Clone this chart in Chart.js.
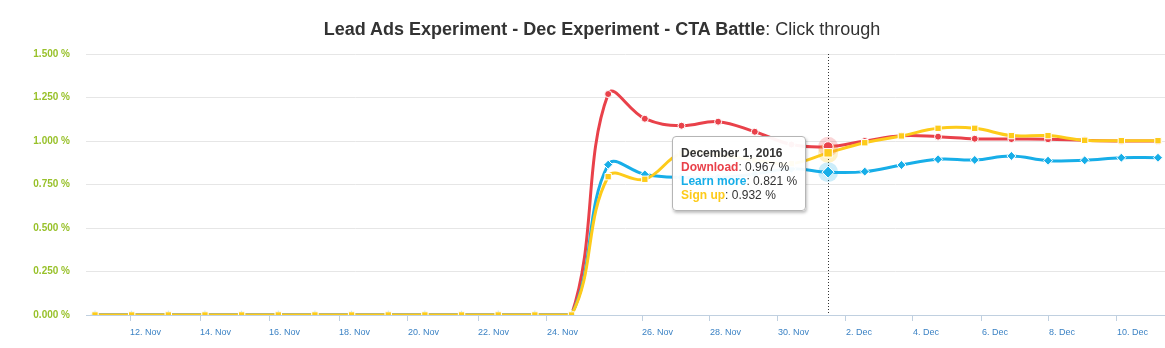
<!DOCTYPE html>
<html>
<head>
<meta charset="utf-8">
<script src="https://cdn.jsdelivr.net/npm/chart.js@4"></script>
<style>
  body { margin: 0; background: #fff; font-family: "Liberation Sans", Arial, Helvetica, sans-serif; }
  #wrap { position: relative; width: 1165px; height: 348px; }
  #title { position: absolute; top: 19px; left: 602px; transform: translateX(-50%);
    white-space: nowrap; font-size: 18px; line-height: 21px; color: #333; }
  #title b { font-weight: bold; }
  #tip { position: absolute; display: none; background: rgba(255,255,255,0.95);
    border: 1px solid #b5b5b5; border-radius: 4px; padding: 9px 8px 8px 8px;
    box-shadow: 1px 2px 3px rgba(0,0,0,0.25); font-size: 12px; line-height: 14px;
    color: #333; white-space: nowrap; pointer-events: none; }
  #tip .t { font-weight: bold; }
  #tip .n { font-weight: bold; }
</style>
</head>
<body>
<div id="wrap">
  <canvas id="chart" width="1165" height="348"></canvas>
  <div id="title"><b>Lead Ads Experiment - Dec Experiment - CTA Battle</b>: Click through</div>
  <div id="tip"></div>
</div>
<script>
// one entry per day, 11 Nov 2016 .. 10 Dec 2016
const days = [
  "2016-11-11", "2016-11-12", "2016-11-13", "2016-11-14", "2016-11-15",
  "2016-11-16", "2016-11-17", "2016-11-18", "2016-11-19", "2016-11-20",
  "2016-11-21", "2016-11-22", "2016-11-23", "2016-11-24", "2016-11-25",
  "2016-11-26", "2016-11-27", "2016-11-28", "2016-11-29", "2016-11-30",
  "2016-12-01", "2016-12-02", "2016-12-03", "2016-12-04", "2016-12-05",
  "2016-12-06", "2016-12-07", "2016-12-08", "2016-12-09", "2016-12-10"
];

// click through rate in %
const download = [
  0, 0, 0, 0, 0, 0, 0, 0, 0, 0, 0, 0, 0, 0,
  1.270, 1.128, 1.088, 1.111, 1.053, 0.980, 0.967, 1.000,
  1.030, 1.025, 1.013, 1.011, 1.010, 1.004, 1.000, 1.000
];
const learnMore = [
  0, 0, 0, 0, 0, 0, 0, 0, 0, 0, 0, 0, 0, 0,
  0.864, 0.808, 0.790, 0.790, 0.810, 0.840, 0.821, 0.824,
  0.862, 0.895, 0.891, 0.914, 0.887, 0.889, 0.904, 0.904
];
const signUp = [
  0, 0, 0, 0, 0, 0, 0, 0, 0, 0, 0, 0, 0, 0,
  0.795, 0.780, 0.930, 0.920, 0.890, 0.870, 0.932, 0.990,
  1.029, 1.073, 1.073, 1.031, 1.031, 1.004, 1.002, 1.002
];

// date labels on the x axis and where they fall along the day index
const tickLabels = [
  "12. Nov", "14. Nov", "16. Nov", "18. Nov", "20. Nov", "22. Nov", "24. Nov",
  "26. Nov", "28. Nov", "30. Nov", "2. Dec", "4. Dec", "6. Dec", "8. Dec", "10. Dec"
];
const tickDays = [
  0.955, 2.865, 4.747, 6.657, 8.539, 10.449, 12.331,
  14.923, 16.778, 18.633, 20.488, 22.316, 24.198, 26.026, 27.881
];

const hoverIndex = 20; // December 1

const RED = "#e9414a", BLUE = "#17aee8", YELLOW = "#fdcb1a";
const HALO = { [RED]: "rgba(233,65,74,0.22)", [BLUE]: "rgba(23,174,232,0.22)", [YELLOW]: "rgba(253,203,26,0.25)" };

function series(label, values, color, style, radius, order) {
  return {
    label: label,
    data: values.map((v, i) => ({ x: i, y: v })),
    borderColor: color,
    backgroundColor: color,
    borderWidth: 3,
    tension: 0.4,
    pointStyle: style,
    pointRadius: radius,
    pointBorderColor: "#ffffff",
    pointBorderWidth: 1,
    pointHoverRadius: radius + 1.5,
    pointHoverBorderWidth: 1,
    pointHoverBorderColor: "#ffffff",
    pointHoverBackgroundColor: color,
    order: order,
  };
}

function parseDay(s) {
  let p = s.split("-").map(Number);
  return new Date(p[0], p[1] - 1, p[2]);
}

// crosshair + halos on the hovered day
const hoverDeco = {
  id: "hoverDeco",
  beforeDatasetsDraw(chart) {
    let act = chart.getActiveElements();
    if (!act.length) return;
    let ctx = chart.ctx, a = chart.chartArea;
    let x = Math.round(act[0].element.x) + 0.5;
    ctx.save();
    ctx.strokeStyle = "#333";
    ctx.lineWidth = 1;
    ctx.setLineDash([1, 2]);
    ctx.beginPath();
    ctx.moveTo(x, a.top);
    ctx.lineTo(x, a.bottom);
    ctx.stroke();
    ctx.restore();
  },
  afterDatasetsDraw(chart) {
    let act = chart.getActiveElements();
    let ctx = chart.ctx;
    ctx.save();
    act.forEach((el) => {
      let color = chart.data.datasets[el.datasetIndex].borderColor;
      ctx.fillStyle = HALO[color];
      ctx.beginPath();
      ctx.arc(el.element.x, el.element.y, 10, 0, Math.PI * 2);
      ctx.fill();
    });
    act.forEach((el) => el.element.draw(ctx, chart.chartArea));
    ctx.restore();
  },
};

function externalTip(context) {
  let tip = document.getElementById("tip");
  let t = context.tooltip;
  if (t.opacity === 0 || !t.dataPoints || !t.dataPoints.length) {
    tip.style.display = "none";
    return;
  }
  let pts = t.dataPoints.slice().sort((a, b) => a.datasetIndex - b.datasetIndex);
  let d = parseDay(days[pts[0].dataIndex]);
  let title = d.toLocaleDateString("en-US", { month: "long", day: "numeric", year: "numeric" });
  let html = '<div class="t">' + title + "</div>";
  pts.forEach((p) => {
    let ds = p.dataset;
    html += '<div><span class="n" style="color:' + ds.borderColor + '">' + ds.label +
      "</span>: " + p.parsed.y.toFixed(3) + " %</div>";
  });
  tip.innerHTML = html;
  tip.style.display = "block";
  tip.style.left = (t.caretX - 22 - tip.offsetWidth) + "px";
  tip.style.top = (t.caretY - 21) + "px";
}

const ctx = document.getElementById("chart").getContext("2d");
const chart = new Chart(ctx, {
  type: "line",
  data: {
    datasets: [
      series("Download", download, RED, "circle", 3.5, 2),
      series("Learn more", learnMore, BLUE, "rectRot", 4.5, 1),
      series("Sign up", signUp, YELLOW, "rect", 4.5, 0),
    ],
  },
  plugins: [hoverDeco],
  options: {
    responsive: false,
    animation: false,
    events: [],
    layout: { autoPadding: false, padding: { top: 54, right: 0, left: 0, bottom: 0 } },
    interaction: { mode: "index", intersect: false },
    plugins: {
      legend: { display: false },
      title: { display: false },
      tooltip: { enabled: false, external: externalTip },
    },
    scales: {
      x: {
        type: "linear",
        min: -0.2455,
        max: 29.191,
        afterFit: (scale) => {
          scale.height = 33;
          scale.paddingLeft = 0;
          scale.paddingRight = 0;
        },
        afterBuildTicks: (scale) => { scale.ticks = tickDays.map((v) => ({ value: v })); },
        grid: { display: true, drawOnChartArea: false, drawTicks: true, tickLength: 6, color: "#c0d0e0" },
        border: { display: true, color: "#c0d0e0", width: 1 },
        ticks: {
          autoSkip: false,
          maxRotation: 0,
          align: "start",
          padding: 6,
          color: "#3b82c4",
          font: { family: "'Liberation Sans', Arial, sans-serif", size: 9 },
          callback: (v, i) => tickLabels[i],
        },
      },
      y: {
        min: 0,
        max: 1.5,
        afterFit: (scale) => { scale.width = 86; },
        grid: { color: "#e6e6e6", drawTicks: false },
        border: { display: false },
        ticks: {
          stepSize: 0.25,
          padding: 16,
          color: "#98c12a",
          font: { family: "'Liberation Sans', Arial, sans-serif", size: 10, weight: "bold" },
          callback: (v) => v.toFixed(3) + " %",
        },
      },
    },
  },
});

const active = [0, 1, 2].map((d) => ({ datasetIndex: d, index: hoverIndex }));
chart.setActiveElements(active);
let m = chart.getDatasetMeta(0).data[hoverIndex];
chart.tooltip.setActiveElements(active, { x: m.x, y: m.y });
chart.update();
</script>
</body>
</html>
